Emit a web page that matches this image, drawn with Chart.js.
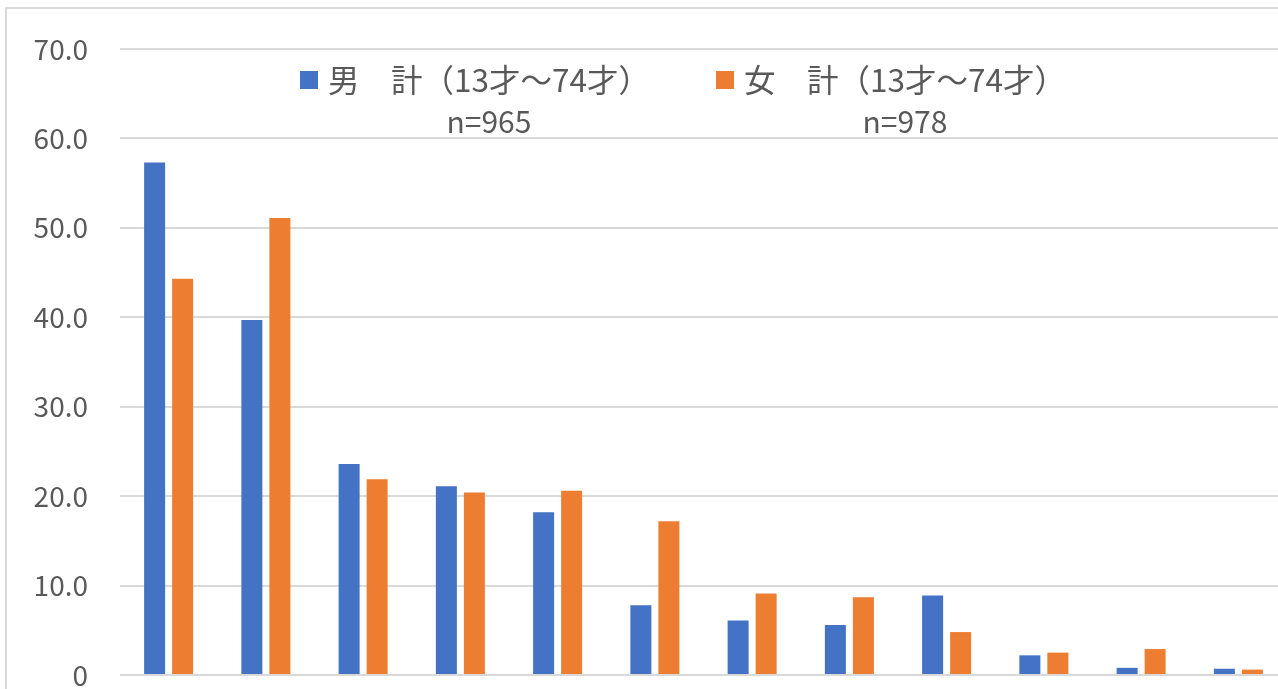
<!DOCTYPE html>
<html>
<head>
<meta charset="utf-8">
<script src="https://cdn.jsdelivr.net/npm/chart.js@4.4.1/dist/chart.umd.min.js"></script>
<style>
  html, body { margin: 0; padding: 0; background: #fff; overflow: hidden; }
  #frame { position: absolute; left: 5px; top: 7px; width: 1400px; height: 800px;
           border-left: 2px solid #d9d9d9; border-top: 2px solid #d9d9d9; }
  #wrap { position: absolute; left: 0; top: 0; width: 1290px; height: 724px; }
</style>
</head>
<body>
<div id="frame"></div>
<div id="wrap"><canvas id="chart"></canvas></div>
<script>
const categories = ["1", "2", "3", "4", "5", "6", "7", "8", "9", "10", "11", "12"];
const maleValues = [57.3, 39.7, 23.6, 21.1, 18.2, 7.8, 6.1, 5.6, 8.9, 2.2, 0.8, 0.7];
const femaleValues = [44.3, 51.1, 21.9, 20.4, 20.6, 17.2, 9.1, 8.7, 4.8, 2.5, 2.9, 0.6];
const seriesNames = ["男　計（13才～74才）", "女　計（13才～74才）"];
const seriesCounts = ["n=965", "n=978"];
const yTickLabels = ["0", "10.0", "20.0", "30.0", "40.0", "50.0", "60.0", "70.0"];

const FONT = "'Noto Sans CJK JP', 'Noto Sans', sans-serif";
const TEXT_COLOR = "#595959";

// legend drawn by hand: two lines per entry (name, then n= centred below)
const twoLineLegend = {
  id: "twoLineLegend",
  afterDraw(chart) {
    const ctx = chart.ctx;
    const startX = [300, 716];
    ctx.save();
    chart.data.datasets.forEach((ds, i) => {
      const x = startX[i];
      ctx.fillStyle = ds.backgroundColor;
      ctx.fillRect(x, 71, 18, 18);
      ctx.font = `31.5px ${FONT}`;
      ctx.fillStyle = TEXT_COLOR;
      ctx.textBaseline = "middle";
      ctx.textAlign = "left";
      const tx = x + 28;
      ctx.fillText(ds.label, tx, 80);
      const w = ctx.measureText(ds.label).width;
      ctx.font = `30px ${FONT}`;
      ctx.textAlign = "center";
      ctx.fillText(seriesCounts[i], tx + w / 2, 122);
    });
    ctx.restore();
  }
};

new Chart(document.getElementById("chart"), {
  type: "bar",
  data: {
    labels: categories,
    datasets: [
      { label: seriesNames[0], data: maleValues, backgroundColor: "#4472C4" },
      { label: seriesNames[1], data: femaleValues, backgroundColor: "#ED7D31" }
    ]
  },
  options: {
    responsive: true,
    maintainAspectRatio: false,
    animation: false,
    devicePixelRatio: 1,
    layout: { padding: { top: 49, right: 3, bottom: 49, left: 0 } },
    datasets: { bar: { categoryPercentage: 0.576, barPercentage: 0.75 } },
    plugins: { legend: { display: false }, tooltip: { enabled: false } },
    scales: {
      x: { display: false },
      y: {
        min: 0,
        max: 70,
        afterFit: (axis) => { axis.width = 120; },
        grid: { color: "#d9d9d9", lineWidth: 2, drawTicks: false },
        border: { display: false },
        ticks: {
          stepSize: 10,
          padding: 32,
          color: TEXT_COLOR,
          font: { family: FONT, size: 28 },
          callback: (v, i) => yTickLabels[i]
        }
      }
    }
  },
  plugins: [twoLineLegend]
});
</script>
</body>
</html>
